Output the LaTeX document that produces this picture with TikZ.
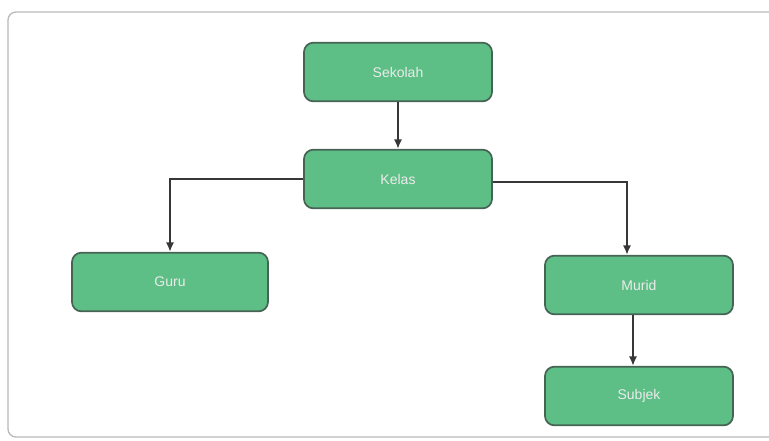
\documentclass[tikz,border=0pt]{standalone}
\usepackage{fontspec}
\setmainfont{Liberation Sans}
\usetikzlibrary{arrows.meta}

\definecolor{boxgreen}{RGB}{94,191,134}
\definecolor{boxedge}{RGB}{70,100,84}
\definecolor{linegray}{RGB}{55,55,55}

\tikzset{
	box/.style={draw=boxedge, line width=1.3pt, fill=boxgreen, rounded corners=7pt,
		minimum width=141pt, minimum height=44pt, text=white!92!black, font=\fontsize{10.5}{12}\selectfont},
	link/.style={draw=linegray, line width=1.3pt, -{Latex[length=7pt,width=6pt]}}
}

\begin{document}
\begin{tikzpicture}[x=0.75pt, y=-0.75pt]
	\useasboundingbox (0,0) rectangle (769,440);
	\draw[gray!55, line width=1pt, rounded corners=6pt] (8,12) rectangle (800,437);
	\node[box] (sekolah) at (398,72) {Sekolah};
	\node[box] (kelas) at (398,179) {Kelas};
	\node[box, minimum width=147pt] (guru) at (170,282) {Guru};
	\node[box] (murid) at (639,285) {Murid};
	\node[box] (subjek) at (639,396) {Subjek};
	\coordinate (mturn) at (627,182);
	\draw[link] (sekolah) -- (kelas);
	\draw[link] (kelas.west) -| (guru.north);
	\draw[link] (kelas.east |- mturn) -- (mturn) -- (mturn |- murid.north);
	\draw[link] ([xshift=-4.5pt]murid.south) -- ([xshift=-4.5pt]subjek.north);
\end{tikzpicture}
\end{document}
